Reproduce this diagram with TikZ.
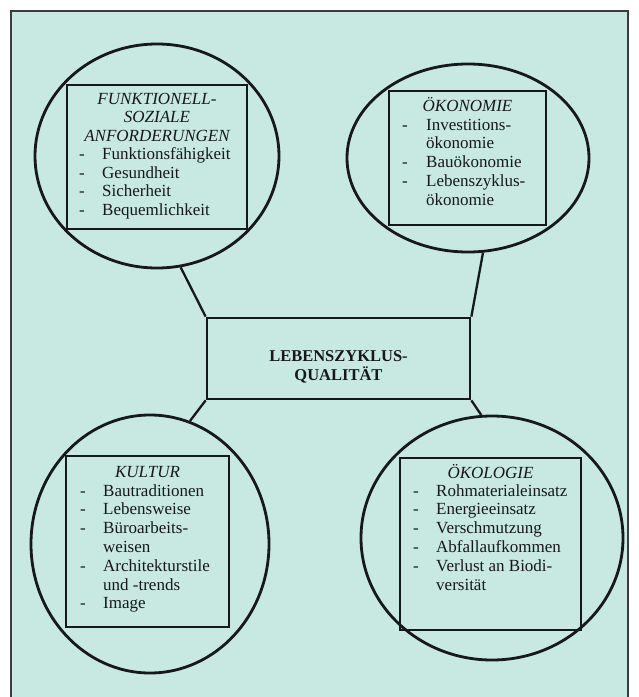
\documentclass[tikz,border=0pt]{standalone}
\usepackage{fontspec}
\setmainfont{Liberation Serif}
\usetikzlibrary{shapes.geometric}
\definecolor{bgteal}{RGB}{200,232,226}
\definecolor{ink}{RGB}{24,24,24}
\definecolor{framegray}{RGB}{60,60,60}
\begin{document}
\begin{tikzpicture}[x=1pt,y=-1pt,
  oval/.style={ellipse,draw=ink,line width=2.8pt,inner sep=0pt},
  listbox/.style={rectangle,draw=ink,line width=1.7pt,inner sep=0pt},
  mainbox/.style={rectangle,draw=ink,line width=2.7pt,inner sep=0pt},
  conn/.style={draw=ink,line width=2.3pt},
  txt/.style={inner sep=0pt,text=ink,font=\fontsize{17}{18.8}\selectfont},
  tltxt/.style={inner sep=0pt,text=ink,font=\fontsize{17}{18.5}\selectfont},
  ttl/.style={anchor=base},
  itm/.style={anchor=base west}]
\useasboundingbox (0,0) rectangle (639,697);
\fill[bgteal] (11,11) rectangle (628,697);
\draw[framegray,line width=1.3pt] (11,697) -- (11,11) -- (628,11) -- (628,697);

% ellipses
\node[oval,minimum width=244pt,minimum height=224pt] (tl) at (157,156) {};
\node[oval,minimum width=242pt,minimum height=188pt] (tr) at (468,158) {};
\node[oval,minimum width=238pt,minimum height=258pt] (bl) at (150,544) {};
\node[oval,minimum width=262pt,minimum height=244pt] (br) at (492,538) {};

% boxes
\node[listbox,minimum width=180pt,minimum height=144pt] (tlbox) at (157,157) {};
\node[listbox,minimum width=157pt,minimum height=134pt] (trbox) at (467.5,158) {};
\node[listbox,minimum width=163pt,minimum height=171pt] (blbox) at (147.5,541.5) {};
\node[listbox,minimum width=181pt,minimum height=172pt] (brbox) at (490.5,544) {};

% centre
\node[mainbox,minimum width=263pt,minimum height=81pt] (centre) at (338.5,358.5) {};
\node[inner sep=0pt,text=ink,font=\fontsize{16.5}{19}\selectfont\bfseries,anchor=base] (centretxt) at (338.5,361)
  {\begin{tabular}[t]{@{}c@{}}LEBENSZYKLUS-\\\smash{QUALITÄT}\end{tabular}};

% connectors
\draw[conn] (centre.north west) -- (tl.-78);
\draw[conn] (centre.north east) -- (tr.-81.5);
\draw[conn] (centre.south west) -- (bl.72.6);
\draw[conn] (centre.south east) -- (br.95.7);

% top left
\node[tltxt,ttl] (tltitle) at (157,104)
  {\itshape\begin{tabular}[t]{@{}c@{}}FUNKTIONELL-\\SOZIALE\\ANFORDERUNGEN\end{tabular}};
\node[tltxt,itm] (tlitems) at (79,159.5)
  {\begin{tabular}[t]{@{}p{23pt}@{}l@{}}-&Funktionsfähigkeit\\-&Gesundheit\\-&Sicherheit\\-&Bequemlichkeit\end{tabular}};

% top right
\node[txt,ttl] (trtitle) at (467.5,111) {\itshape ÖKONOMIE};
\node[txt,itm] (tritems) at (402,130)
  {\begin{tabular}[t]{@{}p{24pt}@{}l@{}}-&Investitions-\\&ökonomie\\-&Bauökonomie\\-&Lebenszyklus-\\&ökonomie\end{tabular}};

% bottom left
\node[txt,ttl] (bltitle) at (147.5,477) {\itshape KULTUR};
\node[txt,itm] (blitems) at (80,496)
  {\begin{tabular}[t]{@{}p{23pt}@{}l@{}}-&Bautraditionen\\-&Lebensweise\\-&Büroarbeits-\\&weisen\\-&Architekturstile\\&und -trends\\-&Image\end{tabular}};

% bottom right
\node[txt,ttl] (brtitle) at (490.5,478) {\itshape ÖKOLOGIE};
\node[txt,itm] (britems) at (413,496)
  {\begin{tabular}[t]{@{}p{23pt}@{}l@{}}-&Rohmaterialeinsatz\\-&Energieeinsatz\\-&Verschmutzung\\-&Abfallaufkommen\\-&Verlust an Biodi-\\&versität\end{tabular}};
\end{tikzpicture}
\end{document}
